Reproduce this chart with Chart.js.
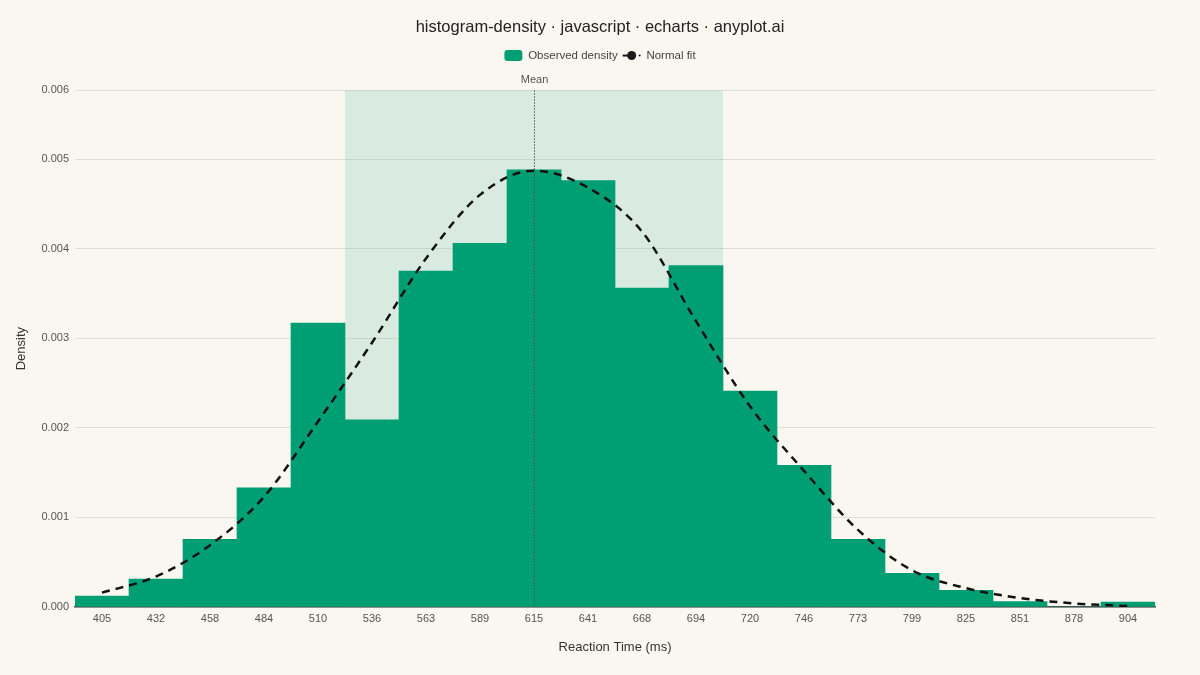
<!DOCTYPE html>
<html>
<head>
<meta charset="utf-8">
<script src="https://cdn.jsdelivr.net/npm/chart.js@4.4.1/dist/chart.umd.min.js"></script>
<style>
  html, body { margin: 0; padding: 0; background: #faf7f1; }
  #wrap { width: 1200px; height: 675px; position: relative; }
</style>
</head>
<body>
<div id="wrap"><canvas id="c" width="1200" height="675"></canvas></div>
<script>
const categories = ['405','432','458','484','510','536','563','589','615','641','668','694','720','746','773','799','825','851','878','904'];
const observedDensity = [0.000123, 0.000313, 0.000756, 0.00133, 0.00317, 0.00209, 0.00375, 0.00406, 0.00488, 0.00476, 0.00356, 0.00381, 0.00241, 0.00158, 0.000755, 0.000376, 0.000186, 0.00006, 0, 0.000056];
const normalFit = [0.00016, 0.00034, 0.00069, 0.00123, 0.00207, 0.00295, 0.00389, 0.0046, 0.00487, 0.00468, 0.00419, 0.00319, 0.00224, 0.00152, 0.00086, 0.00041, 0.00021, 0.0001, 0.00004, 0.00001];
const yTicks = [0, 0.001, 0.002, 0.003, 0.004, 0.005];
const yMax = 0.005767;
const shadeFrom = '536';
const shadeTo = '694';
const meanCategory = '615';
const meanLabel = 'Mean';

const FONT = "'Liberation Sans', Arial, sans-serif";

const bgPlugin = {
  id: 'bg',
  beforeDraw(chart) {
    const ctx = chart.ctx;
    ctx.save();
    ctx.fillStyle = '#faf7f1';
    ctx.fillRect(0, 0, chart.width, chart.height);
    ctx.restore();
  }
};

// empty layout boxes: room between legend and plot, and a right margin
function makeSpacer(position, size, fullSize) {
  return {
    position, weight: 500, fullSize, options: {},
    left: 0, top: 0, right: 0, bottom: 0, width: 0, height: 0,
    isHorizontal() { return position === 'top' || position === 'bottom'; },
    update(maxW, maxH) {
      if (this.isHorizontal()) { this.width = maxW; this.height = size; }
      else { this.width = size; this.height = maxH; }
    },
    draw() {}
  };
}
const spacerPlugin = {
  id: 'spacer',
  beforeInit(chart) {
    Chart.layouts.addBox(chart, makeSpacer('top', 19, true));
    Chart.layouts.addBox(chart, makeSpacer('right', 45, false));
  }
};

const shadePlugin = {
  id: 'shade',
  beforeDatasetsDraw(chart) {
    const x = chart.scales.x, a = chart.chartArea, ctx = chart.ctx;
    const half = (x.getPixelForValue(1) - x.getPixelForValue(0)) / 2;
    const i0 = categories.indexOf(shadeFrom), i1 = categories.indexOf(shadeTo);
    const left = x.getPixelForValue(i0) - half;
    const right = x.getPixelForValue(i1) + half;
    ctx.save();
    ctx.fillStyle = 'rgba(0,158,115,0.13)';
    ctx.fillRect(left, a.top, right - left, a.bottom - a.top);
    ctx.restore();
  },
  afterDatasetsDraw(chart) {
    const x = chart.scales.x, a = chart.chartArea, ctx = chart.ctx;
    const mx = Math.round(x.getPixelForValue(categories.indexOf(meanCategory))) + 0.5;
    ctx.save();
    ctx.strokeStyle = '#555';
    ctx.lineWidth = 1;
    ctx.setLineDash([1.5, 1.5]);
    ctx.beginPath();
    ctx.moveTo(mx, a.top);
    ctx.lineTo(mx, a.bottom);
    ctx.stroke();
    ctx.setLineDash([]);
    ctx.fillStyle = '#555';
    ctx.font = '11px ' + FONT;
    ctx.textAlign = 'center';
    ctx.textBaseline = 'bottom';
    ctx.fillText(meanLabel, mx, a.top - 5);
    ctx.restore();
  }
};

const legendIconPlugin = {
  id: 'legendIcon',
  afterDraw(chart) {
    const lg = chart.legend;
    if (!lg || !lg.legendHitBoxes || lg.legendHitBoxes.length < 2) return;
    const hb = lg.legendHitBoxes[1];
    const ctx = chart.ctx;
    const cy = hb.top + hb.height / 2;
    const x0 = hb.left;
    ctx.save();
    ctx.strokeStyle = '#1a1a1a';
    ctx.lineWidth = 2;
    ctx.beginPath();
    ctx.moveTo(x0, cy);
    ctx.lineTo(x0 + 13, cy);
    ctx.stroke();
    ctx.fillStyle = '#1a1a1a';
    ctx.beginPath();
    ctx.arc(x0 + 9, cy, 4.5, 0, Math.PI * 2);
    ctx.fill();
    ctx.beginPath();
    ctx.arc(x0 + 17, cy, 1, 0, Math.PI * 2);
    ctx.fill();
    ctx.restore();
  }
};

new Chart(document.getElementById('c'), {
  data: {
    labels: categories,
    datasets: [
      {
        type: 'line',
        label: 'Normal fit',
        data: normalFit,
        borderColor: '#111',
        backgroundColor: 'rgba(0,0,0,0)',
        borderWidth: 2.5,
        borderDash: [8, 6],
        pointRadius: 0,
        tension: 0.4,
        cubicInterpolationMode: 'monotone',
        order: 0
      },
      {
        type: 'bar',
        label: 'Observed density',
        data: observedDensity,
        backgroundColor: '#009E73',
        borderWidth: 0,
        categoryPercentage: 1.0,
        barPercentage: 1.0,
        order: 1
      }
    ]
  },
  options: {
    responsive: false,
    animation: false,
    layout: { padding: { left: 0, right: 0, top: 0, bottom: 0 } },
    plugins: {
      title: {
        display: true,
        text: 'histogram-density · javascript · echarts · anyplot.ai',
        color: '#222',
        font: { family: FONT, size: 16.5, weight: 'normal' },
        padding: { top: 18, bottom: 7 }
      },
      legend: {
        display: true,
        labels: {
          font: { family: FONT, size: 11.5 },
          color: '#444',
          boxWidth: 18,
          boxHeight: 11,
          padding: 5,
          generateLabels(chart) {
            return [
              { text: 'Observed density', fillStyle: '#009E73', strokeStyle: '#009E73', lineWidth: 0, datasetIndex: 1, borderRadius: 3, fontColor: '#444' },
              { text: 'Normal fit', fillStyle: 'rgba(0,0,0,0)', strokeStyle: 'rgba(0,0,0,0)', lineWidth: 0, datasetIndex: 0, fontColor: '#444' }
            ];
          },
          useBorderRadius: true,
          borderRadius: 3
        }
      },
      tooltip: { enabled: false }
    },
    scales: {
      x: {
        grid: { display: false, drawTicks: false },
        border: { display: true, color: '#444', width: 1.5 },
        ticks: { color: '#555', font: { family: FONT, size: 11 }, padding: 5, maxRotation: 0, autoSkip: false },
        title: { display: true, text: 'Reaction Time (ms)', color: '#333', font: { family: FONT, size: 13 }, padding: { top: 0, bottom: 20 } },
        afterFit(s) { s.height = 68; }
      },
      y: {
        min: 0,
        max: yMax,
        grid: { color: '#e2ded6', drawTicks: false },
        border: { display: false },
        afterBuildTicks(s) { s.ticks = yTicks.concat([yMax]).map(v => ({ value: v })); },
        ticks: {
          color: '#555',
          font: { family: FONT, size: 11 },
          padding: 6,
          callback: (v) => Number(v).toFixed(3)
        },
        title: { display: true, text: 'Density', color: '#333', font: { family: FONT, size: 13 }, padding: { top: 14, bottom: 8 } },
        afterFit(s) { s.width = 75; }
      }
    }
  },
  plugins: [bgPlugin, spacerPlugin, shadePlugin, legendIconPlugin]
});
</script>
</body>
</html>
